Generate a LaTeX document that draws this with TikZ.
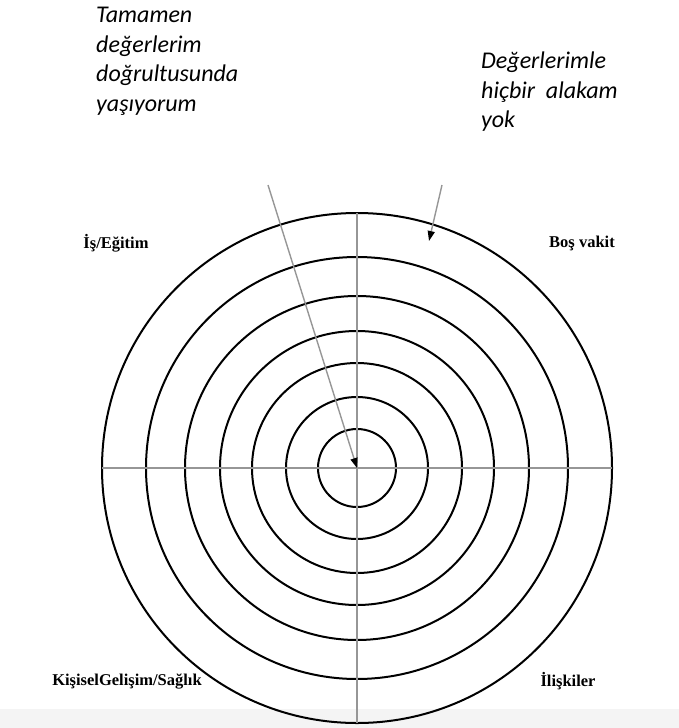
\documentclass[tikz,border=0pt]{standalone}
\usepackage{fontspec}
\usepackage{xcolor}
\usepackage{tikz}
\usetikzlibrary{arrows.meta,positioning}
\newfontfamily\notefont{Carlito}
\newfontfamily\areafont{Liberation Serif}
\definecolor{axisgray}{RGB}{150,150,150}
\definecolor{bandgray}{RGB}{244,244,244}

\tikzset{
  ring/.style={line width=2pt, color=black},
  axis/.style={line width=1.4pt, color=axisgray},
  pointer/.style={line width=1.4pt, color=axisgray, -{Triangle[length=10pt,width=7pt,color=black]}},
  area/.style={font=\areafont\bfseries\fontsize{16.5}{18}\selectfont, inner sep=0pt},
  note/.style={font=\notefont\itshape\fontsize{24}{29.5}\selectfont, align=left, anchor=north west, inner sep=0pt}
}

\begin{document}
\begin{tikzpicture}[x=1pt, y=-1pt]
\useasboundingbox (0,0) rectangle (679,728);
\fill[bandgray] (0,709) rectangle (679,728);
\coordinate (mid) at (357,468);
% rings, outer to inner
\foreach \r in {255,211,172,137,105,71,39}
  \draw[ring] (mid) circle[radius=\r pt];
\draw[axis] (102,468) -- (612,468);
\draw[axis] (357,213) -- (357,723);
% labels of the quarters
\node[area] (isegitim) at (116,243) {İş/Eğitim};
\node[area] (bosvakit) at (582,243) {Boş vakit};
\node[area] (gelisim) at (127,681) {KişiselGelişim/Sağlık};
\node[area] (iliskiler) at (568,681) {İlişkiler};
% notes and their pointers
\node[note] (tamamen) at (96,7) {Tamamen\\değerlerim\\doğrultusunda\\yaşıyorum};
\node[note] (hicbir) at (481,52) {Değerlerimle\\hiçbir\ \ alakam\\yok};
\coordinate (fromin) at (268,185);
\coordinate (fromout) at (442,185);
\coordinate (outtip) at (429,241);
\draw[pointer] (fromin) -- (mid);
\draw[pointer] (fromout) -- (outtip);
\end{tikzpicture}
\end{document}
